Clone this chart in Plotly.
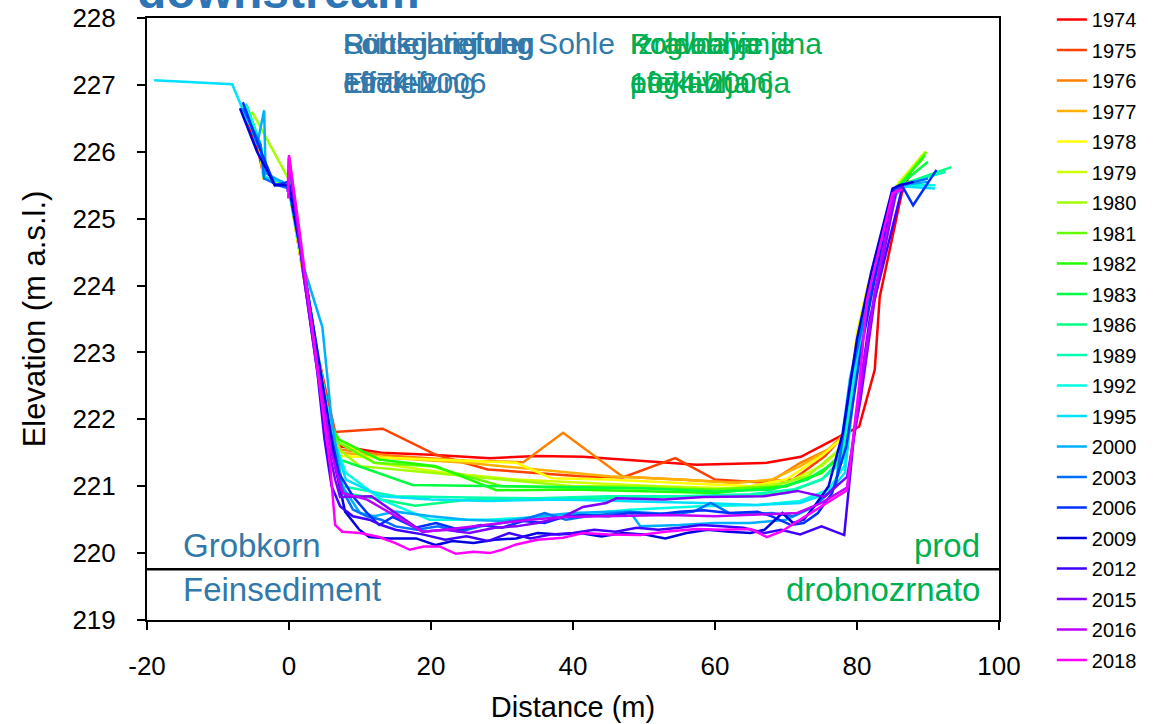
import plotly.graph_objects as go

years = ["1974", "1975", "1976", "1977", "1978", "1979", "1980", "1981", "1982", "1983", "1986",
         "1989", "1992", "1995", "2000", "2003", "2006", "2009", "2012", "2015", "2016", "2018"]
colors = ["#FF0000", "#FF4000", "#FF8000", "#FFB000", "#FFFF00", "#D0FF00", "#A0FF00", "#60FF00",
          "#20FF00", "#00FF40", "#00FF80", "#00FFB0", "#00FFE0", "#00E0FF", "#00B0FF", "#0070FF",
          "#0030FF", "#0000E0", "#4000FF", "#8000FF", "#C000FF", "#FF00FF"]

x1974 = [-6.3, -4.2, -3.5, -1.0, 0.0, 2.0, 4.0, 5.8, 7.0, 13.0, 20.0, 28.3, 35.0, 41.4, 50.0, 57.4, 67.3, 72.1, 78.6, 80.3, 82.5, 83.2, 86.3, 88.0]
z1974 = [226.6, 225.95, 225.6, 225.55, 225.45, 224.2, 222.9, 221.95, 221.6, 221.5, 221.47, 221.42, 221.45, 221.44, 221.38, 221.32, 221.35, 221.44, 221.8, 221.89, 222.74, 223.83, 225.38, 225.8]
x1975 = [-6.4, -4.0, -3.4, -1.0, 0.0, 2.0, 4.2, 6.5, 13.2, 20.7, 28.0, 35.0, 41.0, 47.0, 54.4, 60.0, 66.0, 71.0, 75.5, 78.6, 80.3, 81.5, 85.0, 86.0, 88.5]
z1975 = [226.65, 226.0, 225.6, 225.55, 225.45, 224.3, 222.9, 221.81, 221.86, 221.47, 221.25, 221.2, 221.15, 221.13, 221.42, 221.1, 221.06, 221.1, 221.45, 221.82, 223.0, 223.8, 225.3, 225.5, 225.85]
x1976 = [-6.5, -4.0, -3.5, -1.0, 0.0, 2.0, 4.0, 5.8, 7.0, 15.0, 25.0, 33.0, 38.6, 47.0, 55.0, 62.0, 68.0, 72.0, 76.0, 78.5, 80.2, 81.5, 85.0, 86.0, 89.0]
z1976 = [226.7, 226.05, 225.62, 225.55, 225.45, 224.25, 222.9, 221.9, 221.55, 221.45, 221.38, 221.36, 221.8, 221.14, 221.1, 221.06, 221.08, 221.35, 221.55, 221.8, 223.2, 223.85, 225.35, 225.5, 225.9]
x1977 = [-6.4, -4.0, -3.5, -1.0, 0.0, 2.0, 4.0, 5.8, 7.5, 15, 25, 35, 45, 55, 63, 68, 72, 76, 78.4, 80.2, 81.5, 85, 86, 89.2]
z1977 = [226.68, 226.05, 225.6, 225.55, 225.45, 224.2, 222.85, 221.85, 221.5, 221.42, 221.35, 221.25, 221.15, 221.1, 221.05, 221.1, 221.3, 221.55, 221.8, 223.25, 223.9, 225.38, 225.52, 225.95]
x1978 = [-6.5, -4.1, -3.6, -1.0, 0.0, 2.0, 4.0, 5.6, 7.0, 20, 32, 37, 45, 55, 65, 70, 75, 78.3, 80.0, 81.4, 85, 86, 89.5]
z1978 = [226.7, 226.1, 225.62, 225.55, 225.45, 224.2, 222.85, 221.9, 221.45, 221.4, 221.35, 221.12, 221.1, 221.05, 221.0, 221.1, 221.45, 221.75, 223.3, 223.95, 225.4, 225.55, 225.95]
x1979 = [-6.5, -4.2, -3.6, -1.0, 0.0, 2.0, 4.0, 5.5, 7.0, 12, 22, 32, 42, 52, 62, 70, 75, 78.2, 80.0, 81.4, 85, 86, 89.6]
z1979 = [226.7, 226.1, 225.6, 225.52, 225.45, 224.2, 222.9, 221.95, 221.7, 221.35, 221.2, 221.1, 221.05, 221.0, 220.97, 221.05, 221.3, 221.6, 223.2, 223.9, 225.38, 225.55, 226.0]
x1980 = [-5.2, 0.0, 2.0, 4.0, 5.5, 7.0, 10, 20, 30, 40, 50, 60, 68, 73, 77, 78.4, 80.2, 81.5, 85, 86, 89.3]
z1980 = [226.6, 225.58, 224.25, 222.9, 221.9, 221.55, 221.3, 221.2, 221.1, 221.0, 221.0, 220.95, 221.0, 221.15, 221.5, 221.7, 223.1, 223.85, 225.36, 225.52, 225.9]
x1981 = [-6.3, -4.0, -3.5, -1.0, 0.0, 2.0, 4.0, 5.5, 7.0, 12, 20, 30, 40, 50, 60, 70, 75, 78.0, 80.0, 81.5, 85, 86, 89.8]
z1981 = [226.7, 226.05, 225.6, 225.55, 225.45, 224.3, 222.95, 221.95, 221.65, 221.35, 221.3, 221.0, 220.98, 220.97, 220.95, 221.0, 221.2, 221.5, 223.1, 223.85, 225.35, 225.5, 226.0]
x1982 = [-6.2, -4.0, -3.5, -1.0, 0.0, 2.0, 4.0, 5.5, 7.0, 12.7, 20.7, 29.2, 40, 50, 60, 70, 75, 78.0, 80.0, 81.5, 85, 86, 89.6]
z1982 = [226.7, 226.05, 225.62, 225.55, 225.45, 224.3, 223.0, 222.0, 221.7, 221.4, 221.3, 220.94, 220.95, 220.92, 220.9, 221.0, 221.2, 221.5, 223.1, 223.85, 225.35, 225.5, 225.95]
x1983 = [-6.0, -4.0, -3.5, -1.0, 0.0, 2.0, 4.0, 5.5, 7.1, 17.4, 30, 40, 50, 60, 68, 73, 77.5, 79.5, 81.3, 85, 86, 90.0]
z1983 = [226.7, 226.1, 225.62, 225.55, 225.45, 224.3, 223.0, 222.0, 221.4, 221.02, 221.0, 220.98, 220.97, 220.92, 220.95, 221.1, 221.4, 222.8, 223.8, 225.35, 225.5, 225.85]
x1986 = [-6.0, -4.0, -3.5, -1.0, 0.0, 2.0, 4.0, 5.8, 7.8, 17.8, 25.4, 35, 45, 55, 65, 70, 75, 77.8, 79.8, 81.4, 85, 86, 93.3]
z1986 = [226.7, 226.1, 225.62, 225.55, 225.45, 224.3, 223.0, 221.9, 220.9, 220.71, 220.8, 220.8, 220.82, 220.85, 220.85, 220.9, 221.1, 221.4, 222.9, 223.8, 225.35, 225.5, 225.77]
x1989 = [-6.1, -4.0, -3.5, -1.0, 0.0, 2.0, 4.0, 5.8, 7.5, 15, 25, 35, 45, 55, 65, 71, 75, 77.8, 79.8, 81.4, 85, 86, 92.5]
z1989 = [226.72, 226.1, 225.62, 225.55, 225.45, 224.3, 223.0, 221.9, 221.0, 220.85, 220.83, 220.82, 220.85, 220.85, 220.88, 220.95, 221.1, 221.35, 222.8, 223.75, 225.33, 225.5, 225.7]
x1992 = [-6.2, -4.0, -3.5, -1.0, 0.0, 2.0, 4.0, 6.0, 8.0, 13, 19.8, 28, 38, 48, 58, 66, 72, 76, 78.2, 80.0, 81.5, 85.5, 86.5, 91.0]
z1992 = [226.7, 226.1, 225.62, 225.55, 225.45, 224.3, 223.0, 221.8, 221.2, 220.8, 220.5, 220.5, 220.55, 220.65, 220.7, 220.72, 220.78, 220.95, 221.3, 222.8, 223.7, 225.4, 225.5, 225.5]
x1995 = [-19.0, -8.0, -6.0, -4.0, -3.5, -1.0, 0.0, 2.0, 4.0, 6.0, 8.0, 13, 20, 28, 38, 48, 58, 66, 72, 76, 78.3, 80.0, 81.5, 85.5, 86.5, 91.0]
z1995 = [227.07, 227.01, 226.5, 226.1, 225.62, 225.55, 225.45, 224.3, 223.0, 221.8, 221.1, 220.85, 220.8, 220.78, 220.8, 220.78, 220.75, 220.72, 220.75, 220.9, 221.2, 222.8, 223.7, 225.35, 225.48, 225.45]
x2000 = [-6.0, -4.5, -3.5, -3.3, -1.0, 0.0, 2.0, 4.0, 4.7, 6.0, 7.5, 10, 12, 15, 20, 25, 30, 35, 40, 45, 48, 49.5, 55, 60, 65, 70, 74, 77, 79.0, 81.0, 85.3, 86.3, 90.0]
z2000 = [226.6, 226.1, 226.62, 225.68, 225.55, 225.45, 224.3, 223.6, 223.38, 222.0, 221.0, 220.6, 220.55, 220.62, 220.55, 220.5, 220.48, 220.55, 220.6, 220.62, 220.62, 220.4, 220.42, 220.45, 220.45, 220.5, 220.7, 221.0, 222.6, 223.6, 225.35, 225.5, 225.55]
x2003 = [-6.5, -4.0, -3.5, -1.5, 0.0, 2.0, 4.0, 6.0, 7.5, 9.0, 11, 13, 15, 18, 21, 24, 27, 30, 33, 36, 39, 42, 45, 48, 51, 54, 57, 59.4, 62, 65, 68, 71, 74, 77, 79.3, 81.2, 85.2, 86.2, 90.0]
z2003 = [226.65, 226.1, 225.6, 225.5, 225.45, 224.3, 223.0, 221.7, 220.95, 220.65, 220.55, 220.5, 220.4, 220.35, 220.4, 220.32, 220.4, 220.45, 220.5, 220.6, 220.5, 220.55, 220.58, 220.62, 220.6, 220.58, 220.62, 220.75, 220.6, 220.58, 220.6, 220.55, 220.7, 221.0, 222.7, 223.6, 225.35, 225.5, 225.6]
x2006 = [-6.5, -4.5, -2.0, 0.0, 2.0, 4.0, 5.5, 7.0, 9.0, 11, 12.7, 14.6, 17.8, 20.7, 24, 27, 30, 33, 36, 39, 41.4, 45, 48, 52, 55, 58.4, 62, 66, 68, 70.7, 72.5, 74.5, 76.5, 78.5, 80.5, 82.5, 85.3, 86.3, 87.9, 91.2]
z2006 = [226.74, 226.15, 225.5, 225.55, 224.3, 223.0, 222.0, 221.2, 220.85, 220.6, 220.42, 220.54, 220.38, 220.45, 220.35, 220.42, 220.38, 220.48, 220.45, 220.55, 220.57, 220.55, 220.6, 220.58, 220.62, 220.64, 220.6, 220.62, 220.55, 220.42, 220.45, 220.6, 220.9, 221.6, 223.0, 224.1, 225.45, 225.5, 225.2, 225.73]
x2009 = [-6.9, -4.5, -2.0, 0.0, 2.0, 4.0, 5.5, 6.5, 7.9, 9.9, 11.3, 14.1, 17.9, 20.7, 23, 26, 29, 32, 35, 38, 41, 44, 47, 50, 53, 56, 59, 62, 65, 67, 69.5, 71, 72.5, 74, 76, 78, 80, 82, 85.0, 86.0, 88.0]
z2009 = [226.65, 226.0, 225.5, 225.5, 224.3, 223.0, 222.0, 221.3, 220.62, 220.35, 220.24, 220.22, 220.22, 220.12, 220.18, 220.15, 220.2, 220.22, 220.3, 220.28, 220.3, 220.25, 220.3, 220.28, 220.22, 220.3, 220.35, 220.32, 220.3, 220.35, 220.6, 220.45, 220.5, 220.7, 221.0, 221.8, 223.2, 224.2, 225.45, 225.5, 225.55]
x2012 = [0.0, 2.0, 4.0, 5.0, 6.0, 7.2, 9, 11.3, 13, 15, 18.8, 22, 25, 28, 31, 34, 37, 40, 43, 46, 49, 52, 55, 58, 61, 64, 67, 69.3, 72, 75, 78.2, 79.8, 81.8, 83.4, 86.3]
z2012 = [225.9, 224.2, 222.7, 221.7, 221.0, 220.7, 220.55, 220.5, 220.42, 220.35, 220.28, 220.2, 220.25, 220.18, 220.3, 220.22, 220.28, 220.3, 220.35, 220.32, 220.38, 220.35, 220.38, 220.42, 220.4, 220.38, 220.3, 220.35, 220.28, 220.4, 220.27, 222.0, 223.5, 224.2, 225.43]
x2015 = [-0.2, 0.0, 2.0, 4.0, 5.5, 6.5, 7.2, 11.6, 15, 18.8, 22, 25.4, 29, 32, 35, 38.6, 41.4, 44.7, 46.1, 52.8, 58.4, 63, 66.9, 71.6, 75.4, 78.6, 80.5, 82.5, 85.5, 86.5]
z2015 = [225.4, 225.9, 224.2, 222.7, 221.6, 221.1, 220.84, 220.85, 220.6, 220.32, 220.35, 220.3, 220.38, 220.4, 220.45, 220.54, 220.69, 220.75, 220.82, 220.8, 220.84, 220.84, 220.85, 220.93, 220.84, 221.14, 222.3, 223.8, 225.4, 225.48]
x2016 = [-0.1, 0.0, 2.0, 4.0, 6.0, 7.5, 11, 15, 18.8, 22, 26, 30, 34, 38.6, 44, 49, 53.7, 60, 66.9, 71.6, 75, 78.6, 80.5, 82.5, 85.3, 86.3]
z2016 = [225.5, 225.92, 224.3, 222.8, 221.5, 220.9, 220.8, 220.55, 220.32, 220.35, 220.4, 220.45, 220.5, 220.54, 220.55, 220.57, 220.57, 220.55, 220.58, 220.6, 220.75, 220.98, 222.5, 223.9, 225.4, 225.45]
x2018 = [-0.1, 0.0, 1.5, 3.0, 4.5, 5.8, 6.5, 7.5, 10, 12.7, 15, 17, 19, 21.2, 23.5, 26, 28.3, 30, 32, 35, 38.6, 41.4, 45, 49.5, 53, 57.4, 61, 65, 67.3, 69.3, 72, 75, 78.6, 80.3, 81.4, 85, 86.3]
z2018 = [225.3, 225.95, 224.8, 223.6, 222.4, 221.3, 220.42, 220.32, 220.3, 220.24, 220.15, 220.05, 220.1, 220.1, 219.99, 220.02, 220.0, 220.05, 220.13, 220.2, 220.23, 220.3, 220.28, 220.27, 220.32, 220.36, 220.35, 220.36, 220.24, 220.32, 220.5, 220.7, 220.94, 222.5, 223.78, 225.38, 225.43]

dist = [x1974, x1975, x1976, x1977, x1978, x1979, x1980, x1981, x1982, x1983, x1986,
        x1989, x1992, x1995, x2000, x2003, x2006, x2009, x2012, x2015, x2016, x2018]
elev = [z1974, z1975, z1976, z1977, z1978, z1979, z1980, z1981, z1982, z1983, z1986,
        z1989, z1992, z1995, z2000, z2003, z2006, z2009, z2012, z2015, z2016, z2018]

x_ticks = [-20, 0, 20, 40, 60, 80, 100]
x_tick_text = ["-20", "0", "20", "40", "60", "80", "100"]

boundary_level = 219.76
blue_labels = ["Sohleintiefung<br>1974-2006", "Fortschreitung<br>effektiv", "Rückgang der Sohle<br>Eintiefung"]
green_labels = ["Poglabljanje<br>1974-2006", "Kolebanje dna<br>poglabljanja", "Izravnava<br>efektivna"]

BLUE = "#3279AA"
GREEN = "#00B050"
FONT = "Liberation Sans, Arial, sans-serif"

fig = go.Figure()
for yr, col, xs, zs in zip(years, colors, dist, elev):
    fig.add_trace(go.Scatter(x=xs, y=zs, mode="lines", name=yr, legendgroup=yr,
                             line=dict(color=col, width=2.5)))

fig.add_shape(type="line", xref="x", yref="y", x0=-20, x1=100, y0=boundary_level, y1=boundary_level,
              line=dict(color="black", width=2.5))

for t in blue_labels:
    fig.add_annotation(x=7.3, y=227.32, xref="x", yref="y", text=t, showarrow=False,
                       xanchor="left", yanchor="middle", align="left",
                       font=dict(family=FONT, size=30, color=BLUE))
for t in green_labels:
    fig.add_annotation(x=47.8, y=227.32, xref="x", yref="y", text=t, showarrow=False,
                       xanchor="left", yanchor="middle", align="left",
                       font=dict(family=FONT, size=30, color=GREEN))

fig.add_annotation(x=-15.2, y=220.11, xref="x", yref="y", text="Grobkorn", showarrow=False,
                   xanchor="left", yanchor="middle", font=dict(family=FONT, size=33, color=BLUE))
fig.add_annotation(x=-15.2, y=219.46, xref="x", yref="y", text="Feinsediment", showarrow=False,
                   xanchor="left", yanchor="middle", font=dict(family=FONT, size=33, color=BLUE))
fig.add_annotation(x=97.6, y=220.11, xref="x", yref="y", text="prod", showarrow=False,
                   xanchor="right", yanchor="middle", font=dict(family=FONT, size=33, color=GREEN))
fig.add_annotation(x=97.6, y=219.46, xref="x", yref="y", text="drobnozrnato", showarrow=False,
                   xanchor="right", yanchor="middle", font=dict(family=FONT, size=33, color=GREEN))

fig.add_annotation(x=-0.014, y=0.996, xref="paper", yref="paper", text="<b>downstream</b>",
                   showarrow=False, xanchor="left", yanchor="bottom",
                   font=dict(family=FONT, size=48, color="#2E75B6"))

fig.update_layout(
    width=1158, height=724,
    margin=dict(l=147, r=159, t=18, b=104, autoexpand=False),
    paper_bgcolor="white", plot_bgcolor="white",
    font=dict(family=FONT, color="black"),
    showlegend=True,
    legend=dict(x=1.062, y=1.03, xanchor="left", yanchor="top", font=dict(size=20, color="black"),
                tracegroupgap=1.5, bgcolor="rgba(0,0,0,0)", itemwidth=30, maxheight=720),
)
fig.update_xaxes(range=[-20, 100], tickvals=x_ticks, ticktext=x_tick_text, showgrid=False, zeroline=False,
                 showline=True, linecolor="black", linewidth=2, mirror=True,
                 ticks="outside", ticklen=8, tickwidth=2, tickcolor="black",
                 ticklabelstandoff=14, tickfont=dict(size=26),
                 title=dict(text="Distance (m)", font=dict(size=29), standoff=16))
fig.update_yaxes(range=[219, 228], dtick=1, showgrid=False, zeroline=False,
                 showline=True, linecolor="black", linewidth=2, mirror=True,
                 ticks="outside", ticklen=8, tickwidth=2, tickcolor="black",
                 ticklabelstandoff=16, tickfont=dict(size=26),
                 title=dict(text="Elevation (m a.s.l.)", font=dict(size=31), standoff=18))

fig.write_html("out.html")
